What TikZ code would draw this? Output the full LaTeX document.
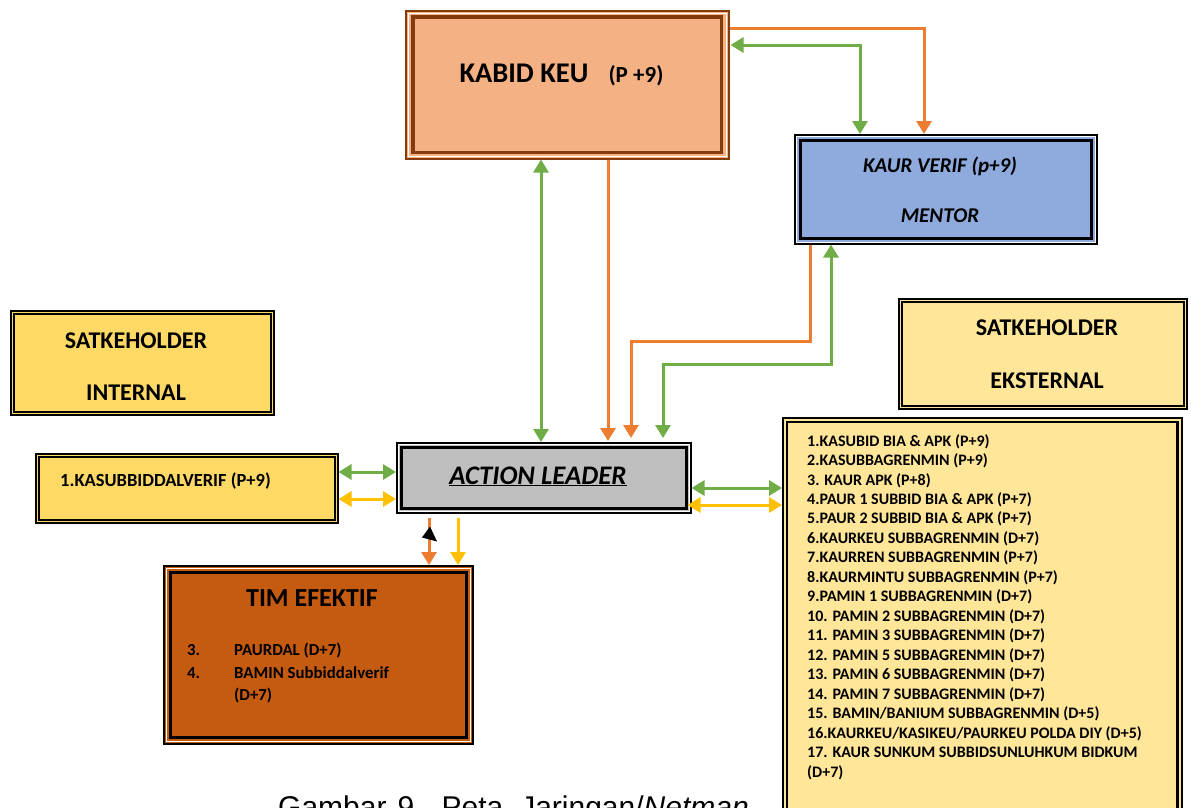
\documentclass[tikz,border=0pt]{standalone}
\usepackage{fontspec}
\setmainfont{Carlito}
\newfontfamily\arialf{Liberation Sans}
\usetikzlibrary{arrows.meta,calc}
\definecolor{cgreen}{HTML}{70AD47}
\definecolor{corange}{HTML}{ED7D31}
\definecolor{cyellow}{HTML}{FFC000}
\definecolor{kabidfill}{HTML}{F4B183}
\definecolor{kabidline}{HTML}{843C0C}
\definecolor{verfill}{HTML}{8FAADC}
\definecolor{goldfill}{HTML}{FFD966}
\definecolor{lightgold}{HTML}{FFE699}
\definecolor{grayfill}{HTML}{BFBFBF}
\definecolor{timfill}{HTML}{C55A11}
\tikzset{
  box/.style={draw, line width=1.5pt, inner sep=0pt, anchor=north west},
  conn/.style={line width=3pt},
  tip/.style={-{Triangle[width=15pt,length=13pt]}},
  btip/.style={{Triangle[width=15pt,length=13pt]}-{Triangle[width=15pt,length=13pt]}},
  lbl/.style={inner sep=0pt, anchor=base, font=\bfseries},
}
\begin{document}
\begin{tikzpicture}[x=1pt,y=-1pt]
\useasboundingbox[fill=white] (0,0) rectangle (1191,807);

% ---------- boxes ----------
% KABID KEU
\node[box, draw=kabidline, fill=kabidfill, minimum width=323pt, minimum height=148pt] (kabid) at (405,10) {};
\draw[white, line width=1pt] ($(kabid.north west)+(3,3)$) rectangle ($(kabid.south east)+(-3,-3)$);
\draw[kabidline, line width=3.5pt] ($(kabid.north west)+(8,7)$) rectangle ($(kabid.south east)+(-8,-7)$);
\node[lbl, font=\bfseries\fontsize{28.5}{30}\selectfont] (kabidt) at (524,82) {KABID KEU};
\node[lbl, font=\bfseries\fontsize{23}{25}\selectfont] (kabidp) at (636,82) {(P +9)};

% KAUR VERIF
\node[box, fill=verfill, minimum width=302pt, minimum height=109pt] (kaur) at (794,134) {};
\draw[white, line width=1pt] ($(kaur.north west)+(2.5,2.5)$) rectangle ($(kaur.south east)+(-2.5,-2.5)$);
\draw[line width=3pt] ($(kaur.north west)+(6,6)$) rectangle ($(kaur.south east)+(-6,-6)$);
\node[lbl, font=\bfseries\itshape\fontsize{21}{23}\selectfont] (kaurt) at (940,172) {KAUR VERIF (p+9)};
\node[lbl, font=\bfseries\itshape\fontsize{21}{23}\selectfont] (kaurm) at (940,222) {MENTOR};

% SATKEHOLDER INTERNAL
\node[box, fill=goldfill, minimum width=263pt, minimum height=104pt] (sint) at (10,310) {};
\draw[line width=2pt] ($(sint.north west)+(4,4)$) rectangle ($(sint.south east)+(-4,-4)$);
\node[lbl, font=\bfseries\fontsize{24}{26}\selectfont] (sint1) at (136,348) {SATKEHOLDER};
\node[lbl, font=\bfseries\fontsize{24}{26}\selectfont] (sint2) at (136,400) {INTERNAL};

% KASUBBIDDALVERIF
\node[box, fill=goldfill, minimum width=302pt, minimum height=69pt] (kasub) at (35,453) {};
\draw[line width=2pt] ($(kasub.north west)+(4,4)$) rectangle ($(kasub.south east)+(-4,-4)$);
\node[lbl, anchor=base west, font=\bfseries\fontsize{18.5}{20}\selectfont] (kasubt) at (60,486) {1.KASUBBIDDALVERIF (P+9)};

% SATKEHOLDER EKSTERNAL
\node[box, fill=lightgold, minimum width=288pt, minimum height=110pt] (seks) at (898,298) {};
\draw[line width=2pt] ($(seks.north west)+(4,4)$) rectangle ($(seks.south east)+(-4,-4)$);
\node[lbl, font=\bfseries\fontsize{24}{26}\selectfont] (seks1) at (1047,335) {SATKEHOLDER};
\node[lbl, font=\bfseries\fontsize{24}{26}\selectfont] (seks2) at (1047,388) {EKSTERNAL};

% list box
\node[box, fill=lightgold, minimum width=399pt, minimum height=400pt] (list) at (782,417) {};
\draw[line width=2.5pt] ($(list.north west)+(5,5)$) rectangle ($(list.south east)+(-5,-5)$);
\node[inner sep=0pt, anchor=north west, align=left, font=\bfseries\fontsize{16}{19.47}\selectfont] (listt) at (807,434) {%
1.KASUBID BIA \& APK (P+9)\\
2.KASUBBAGRENMIN (P+9)\\
3. KAUR APK (P+8)\\
4.PAUR 1 SUBBID BIA \& APK (P+7)\\
5.PAUR 2 SUBBID BIA \& APK (P+7)\\
6.KAURKEU SUBBAGRENMIN (D+7)\\
7.KAURREN SUBBAGRENMIN (P+7)\\
8.KAURMINTU SUBBAGRENMIN (P+7)\\
9.PAMIN 1 SUBBAGRENMIN (D+7)\\
10. PAMIN 2 SUBBAGRENMIN (D+7)\\
11. PAMIN 3 SUBBAGRENMIN (D+7)\\
12. PAMIN 5 SUBBAGRENMIN (D+7)\\
13. PAMIN 6 SUBBAGRENMIN (D+7)\\
14. PAMIN 7 SUBBAGRENMIN (D+7)\\
15. BAMIN/BANIUM SUBBAGRENMIN (D+5)\\
16.KAURKEU/KASIKEU/PAURKEU POLDA DIY (D+5)\\
17. KAUR SUNKUM SUBBIDSUNLUHKUM BIDKUM\\
(D+7)};

% ACTION LEADER
\node[box, fill=grayfill, minimum width=294pt, minimum height=70pt] (act) at (396,442) {};
\draw[white, line width=1pt] ($(act.north west)+(2.5,2.5)$) rectangle ($(act.south east)+(-2.5,-2.5)$);
\draw[line width=3pt] ($(act.north west)+(5.5,5.5)$) rectangle ($(act.south east)+(-5.5,-5.5)$);
\node[lbl, font=\bfseries\itshape\fontsize{26.8}{28}\selectfont] (actt) at (538,484) {\underline{ACTION LEADER}};

% TIM EFEKTIF
\node[box, fill=timfill, minimum width=309pt, minimum height=178pt] (tim) at (163,565) {};
\draw[white, line width=1pt] ($(tim.north west)+(3,3)$) rectangle ($(tim.south east)+(-3,-3)$);
\draw[line width=3pt] ($(tim.north west)+(7,7)$) rectangle ($(tim.south east)+(-7,-7)$);
\node[lbl, font=\bfseries\fontsize{26}{28}\selectfont] (timt) at (312,606) {TIM EFEKTIF};
\node[lbl, anchor=base west, font=\bfseries\fontsize{16.8}{18}\selectfont] (tim3) at (187,655) {3.};
\node[lbl, anchor=base west, font=\bfseries\fontsize{16.8}{18}\selectfont] (tim3t) at (234,655) {PAURDAL (D+7)};
\node[lbl, anchor=base west, font=\bfseries\fontsize{16.8}{18}\selectfont] (tim4) at (187,678) {4.};
\node[lbl, anchor=base west, font=\bfseries\fontsize{16.8}{18}\selectfont] (tim4t) at (234,678) {BAMIN Subbiddalverif};
\node[lbl, anchor=base west, font=\bfseries\fontsize{16.8}{18}\selectfont] (tim4d) at (234,700) {(D+7)};

% caption (cut by the page edge, as in the reference)
\node[inner sep=0pt, anchor=base west, font=\arialf\fontsize{30}{32}\selectfont] (cap) at (278,817) {Gambar\hspace{11pt}9.\hspace{19pt}Peta\hspace{17pt}Jaringan/\textit{Netman}};

% ---------- connectors ----------
\draw[conn, cgreen, btip] ($(kabid.south west)+(136,0)$) -- ($(act.north west)+(145,0)$);
\draw[conn, corange, tip] ($(kabid.south west)+(203,0)$) -- ($(act.north west)+(212,-1)$);
\draw[conn, corange, tip] ($(kabid.north east)+(0,18)$) -| ($(kaur.north west)+(130,0)$);
\draw[conn, cgreen, btip] ($(kabid.north east)+(1,35)$) -| ($(kaur.north west)+(66,0)$);
\draw[conn, corange, tip] ($(kaur.south west)+(16,0)$) -- ++(0,97) -| ($(act.north west)+(235,-4)$);
\draw[conn, cgreen, btip] ($(act.north west)+(267,-4)$) -- ++(0,-74) -| ($(kaur.south west)+(37,0)$);
\draw[conn, cgreen, btip] ($(kasub.north east)+(0,19)$) -- ($(act.north west)+(0,30)$);
\draw[conn, cyellow, btip] ($(kasub.north east)+(0,46)$) -- ($(act.north west)+(0,57)$);
\draw[conn, cgreen, btip] ($(act.north east)+(0,46)$) -- ($(list.north west)+(0,71)$);
\draw[conn, cyellow, btip] ($(act.north east)+(-4,63)$) -- ($(list.north west)+(0,88)$);
\draw[conn, corange, tip] ($(act.south west)+(33,4)$) -- ($(tim.north west)+(266,0)$);
\draw[conn, cyellow, tip] ($(act.south west)+(62,4)$) -- ($(tim.north west)+(295,0)$);
\fill[black] ($(act.south west)+(34,13)$) -- ($(act.south west)+(26,24)$) -- ($(act.south west)+(41,28)$) -- cycle;
\end{tikzpicture}
\end{document}
